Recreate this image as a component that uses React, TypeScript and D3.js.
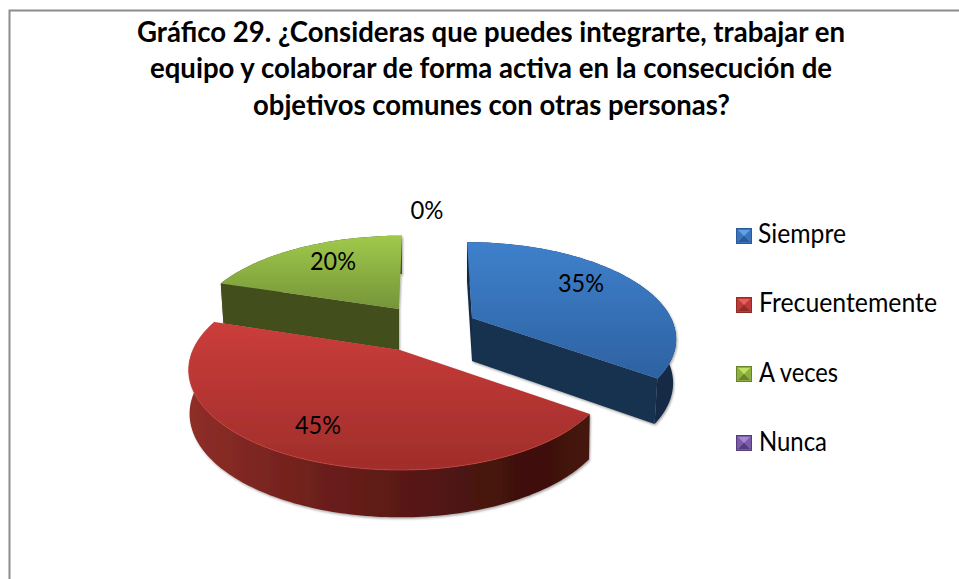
import React from "react";
import * as d3 from "d3";

const W = 959;
const H = 579;

// ---- data ----
const categories = ["Siempre", "Frecuentemente", "A veces", "Nunca"];
const percentages = [35, 45, 20, 0];
const percentLabels = ["35%", "45%", "20%", "0%"];
const titleLines = [
  "Gráfico 29. ¿Consideras que puedes integrarte, trabajar en",
  "equipo y colaborar de forma activa en la consecución de",
  "objetivos comunes con otras personas?",
];

// ---- layout / style ----
const FONT = "Lato, Carlito, 'Open Sans', sans-serif";
const titleLayout = [
  { x: 137, y: 42, len: 708 },
  { x: 150, y: 78, len: 682 },
  { x: 253, y: 115, len: 477 },
];
const legendLayout = [
  { y: 236, base: 243, x: 758, len: 88 },
  { y: 305, base: 312, x: 759, len: 178 },
  { y: 374, base: 382, x: 759, len: 79 },
  { y: 443, base: 451, x: 759, len: 68 },
];
const labelLayout = [
  { x: 581, y: 292 },
  { x: 318, y: 434 },
  { x: 333, y: 270 },
  { x: 427, y: 219 },
];
const sliceGeom = [
  { ax: 472, ay: 318, rx: 199, ry: 91, h: 43, shear: -5, conv: 0.985 },
  { ax: 400, ay: 350, rx: 207, ry: 96, h: 43, shear: 0, conv: 0.996 },
  { ax: 399, ay: 309, rx: 200, ry: 88, h: 41, shear: 3, conv: 0.985 },
  { ax: 430, ay: 300, rx: 200, ry: 88, h: 41, shear: 0, conv: 0.985 },
];
const palette = [
  { topA: "#3f80cc", topB: "#2d62a2", wall: "#16304f", outer: "#122945", light: "#5fa0e6", mid: "#3a74bd", dark: "#2a5a96" },
  { topA: "#cb3d3b", topB: "#9f2d2a", wall: "#3e0f0d", outer: "#5c1b18", light: "#e4615c", mid: "#bf3a37", dark: "#8f2b28" },
  { topA: "#a0c94a", topB: "#76953a", wall: "#42501d", outer: "#42501d", light: "#bfe063", mid: "#8fb03f", dark: "#66832d" },
  { topA: "#8a67b8", topB: "#6a4c92", wall: "#3a2a55", outer: "#3a2a55", light: "#a688d0", mid: "#7b5ca8", dark: "#553c7a" },
];
const K = 0.2;

const pieAngles = d3.pie<number>().sort(null)(percentages);
const lineGen = d3.line<[number, number]>();

type G = typeof sliceGeom[number];
function topPt(g: G, a: number): [number, number] {
  const X = Math.sin(a);
  const Y = Math.cos(a);
  const s = 1 / (1 + K * Y);
  return [g.ax + g.rx * X * s + g.shear * Y, g.ay - g.ry * Y * s];
}
function botPt(g: G, a: number): [number, number] {
  const [x, y] = topPt(g, a);
  const s = 1 / (1 + K * Math.cos(a));
  return [g.ax + (x - g.ax) * g.conv, y + g.h * (1 + 0.4 * (s - 1))];
}
function arcPts(g: G, a0: number, a1: number, f = topPt) {
  const n = Math.max(2, Math.ceil(Math.abs(a1 - a0) / 0.02));
  return d3.range(n + 1).map((i) => f(g, a0 + ((a1 - a0) * i) / n));
}

function Slice({ i }: { i: number }) {
  const g = sliceGeom[i];
  const p = palette[i];
  const { startAngle: a0, endAngle: a1 } = pieAngles[i];
  if (a1 - a0 < 1e-6) return null;
  const apexT: [number, number] = [g.ax, g.ay];
  const apexB: [number, number] = [g.ax, g.ay + g.h];
  const top = [apexT, ...arcPts(g, a0, a1)];
  const outer = [...arcPts(g, a0, a1), ...arcPts(g, a1, a0, botPt)];
  const quad = (a: number) => [apexT, topPt(g, a), botPt(g, a), apexB] as [number, number][];
  return (
    <g filter="url(#softShadow)">
      <path d={lineGen(outer)! + "Z"} fill={i === 1 ? "url(#redWall)" : p.outer} />
      {i === 0 && <path d={lineGen(quad(a0))! + "Z"} fill={p.outer} />}
      {i === 0 && <path d={lineGen(quad(a1))! + "Z"} fill={p.wall} />}
      {i === 2 && <path d={lineGen(quad(a0))! + "Z"} fill={p.wall} />}
      <path d={lineGen(top)! + "Z"} fill={`url(#top${i})`} />
      {i === 1 && (
        <path d={lineGen(arcPts(g, a0 + 0.15, a1))!} fill="none" stroke="#c9443f" strokeWidth={1} strokeOpacity={0.75} />
      )}
    </g>
  );
}

function Marker({ i }: { i: number }) {
  const p = palette[i];
  const y0 = legendLayout[i].y - 8;
  const x0 = 736;
  const s = 16;
  const b = 2;
  const cx = x0 + s / 2;
  const cy = y0 + s / 2;
  const tri = (pts: [number, number][], fill: string) => (
    <path d={lineGen(pts)! + "Z"} fill={fill} />
  );
  return (
    <g>
      <rect x={x0} y={y0} width={s} height={s} fill={p.mid} />
      {tri([[x0 + b, y0 + b], [x0 + s - b, y0 + b], [cx, cy]], p.light)}
      {tri([[x0 + b, y0 + s - b], [x0 + s - b, y0 + s - b], [cx, cy]], p.dark)}
      <rect x={x0 + 0.5} y={y0 + 0.5} width={s - 1} height={s - 1} fill="none" stroke={p.dark} strokeWidth={1} />
    </g>
  );
}

export default function App() {
  return (
    <svg
      width={W}
      height={H}
      viewBox={`0 0 ${W} ${H}`}
      style={{ position: "absolute", left: 0, top: 0, background: "#fff", display: "block" }}
    >
      <defs>
        {palette.map((p, i) => (
          <linearGradient key={i} id={`top${i}`} x1="0" y1="0" x2="0" y2="1">
            <stop offset="0" stopColor={p.topA} />
            <stop offset="1" stopColor={p.topB} />
          </linearGradient>
        ))}
        <linearGradient id="redWall" x1="0" y1="0" x2="1" y2="0">
          <stop offset="0" stopColor="#8f2e28" />
          <stop offset="0.3" stopColor="#6f201c" />
          <stop offset="0.6" stopColor="#541714" />
          <stop offset="0.85" stopColor="#3f100d" />
          <stop offset="1" stopColor="#451310" />
        </linearGradient>
        <filter id="softShadow" x="-5%" y="-5%" width="110%" height="110%">
          <feDropShadow dx="1" dy="1.5" stdDeviation="1.3" floodColor="#000" floodOpacity="0.35" />
        </filter>
      </defs>

      <path d={`M9.5 ${H}V10.5H${W}`} fill="none" stroke="#8c8c8c" strokeWidth={2} />

      {titleLines.map((t, i) => (
        <text
          key={i}
          x={titleLayout[i].x}
          y={titleLayout[i].y}
          textLength={titleLayout[i].len}
          lengthAdjust="spacingAndGlyphs"
          fontFamily={FONT}
          fontWeight={700}
          fontSize={29}
          fill="#000"
        >
          {t}
        </text>
      ))}

      <Slice i={2} />
      <Slice i={0} />
      <Slice i={1} />

      {percentLabels.map((t, i) => (
        <text
          key={i}
          x={labelLayout[i].x}
          y={labelLayout[i].y}
          textAnchor="middle"
          textLength={i === 3 ? 33 : 46}
          lengthAdjust="spacingAndGlyphs"
          fontFamily={FONT}
          fontSize={25}
          fill="#000"
        >
          {t}
        </text>
      ))}

      {categories.map((c, i) => (
        <g key={c}>
          <Marker i={i} />
          <text
            x={legendLayout[i].x}
            y={legendLayout[i].base}
            textLength={legendLayout[i].len}
            lengthAdjust="spacingAndGlyphs"
            fontFamily={FONT}
            fontSize={26}
            fill="#000"
          >
            {c}
          </text>
        </g>
      ))}
    </svg>
  );
}
